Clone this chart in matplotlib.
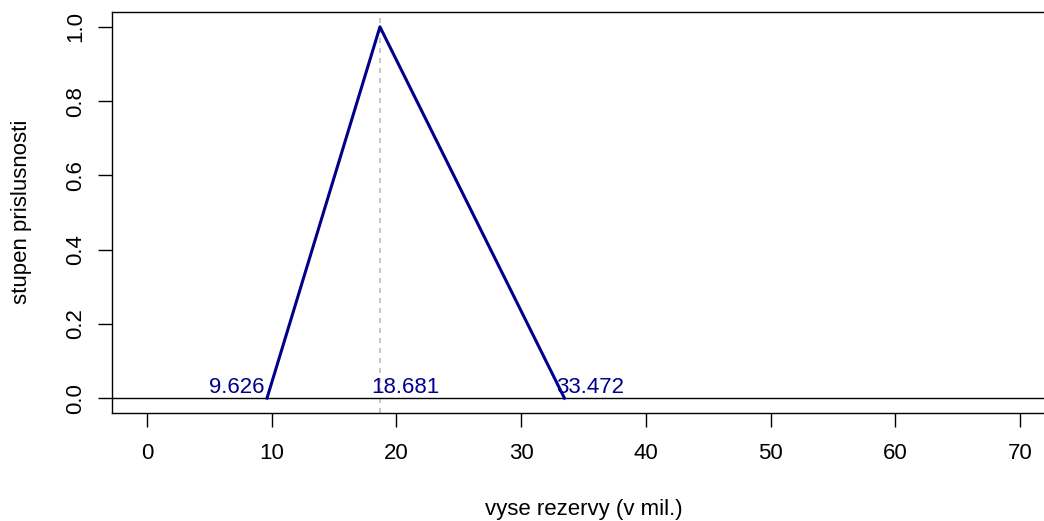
import matplotlib
matplotlib.use('Agg')
import matplotlib.pyplot as plt

plt.rcParams['font.family'] = ['Liberation Sans', 'DejaVu Sans']

# triangular membership function
tri_x = [9.626, 18.681, 33.472]
tri_y = [0, 1, 0]
tri_labels = ['9.626', '18.681', '33.472']

x_ticks = [0, 10, 20, 30, 40, 50, 60, 70]
y_ticks = [0.0, 0.2, 0.4, 0.6, 0.8, 1.0]

fig = plt.figure(figsize=(10.44, 5.21), dpi=100)
# plot region runs a little past the right edge of the image
ax = fig.add_axes([112 / 1044, 1 - 413 / 521, (1055 - 112) / 1044, (413 - 12) / 521])

ax.axvline(tri_x[1], color='#bebebe', linestyle=(0, (3, 3)), linewidth=1.2, zorder=1)
ax.axhline(0, color='black', linewidth=1.0, zorder=2)
ax.plot(tri_x, tri_y, color='#00008b', linewidth=2.2, zorder=3)

# value labels just above the zero line
offsets = [(-2, 5.5), (-9, 5.5), (-8, 5.5)]
aligns = ['right', 'left', 'left']
for xv, lab, off, ha in zip(tri_x, tri_labels, offsets, aligns):
    ax.annotate(lab, (xv, 0), xytext=off, textcoords='offset pixels',
                ha=ha, va='baseline', color='#00008b', fontsize=16)

ax.set_xlim(-2.8, 72.8)
ax.set_ylim(-0.04, 1.04)
ax.set_xticks(x_ticks)
ax.set_xticklabels([str(t) for t in x_ticks])
ax.set_yticks(y_ticks)
ax.set_yticklabels(['%.1f' % t for t in y_ticks], rotation=90, va='center')

ax.tick_params(axis='both', direction='out', length=10, width=1.0, labelsize=16)
ax.tick_params(axis='x', pad=11.5)
ax.tick_params(axis='y', pad=8.5)
for s in ax.spines.values():
    s.set_linewidth(1.0)

ax.set_xlabel('vyse rezervy (v mil.)', fontsize=16, va='baseline')
ax.set_ylabel('stupen prislusnosti', fontsize=16, va='center')
ax.xaxis.set_label_coords((583.5 - 112) / (1055 - 112), -(515 - 413) / (413 - 12))
ax.yaxis.set_label_coords(-(112 - 21.5) / (1055 - 112), (413 - 212) / (413 - 12))

fig.savefig('out.png', dpi=100)
